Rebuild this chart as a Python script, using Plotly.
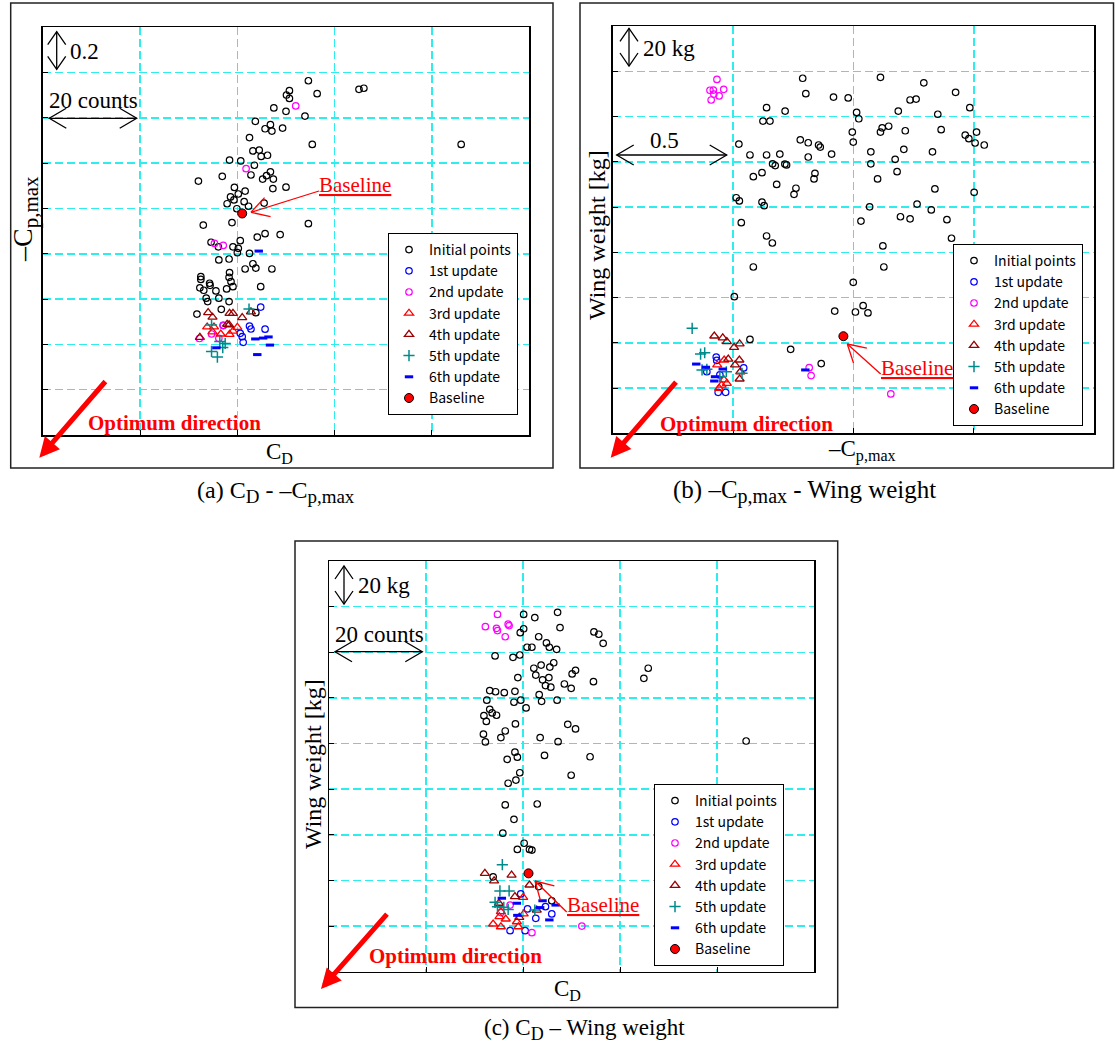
import math
import plotly.graph_objects as go

W, H = 1115, 1047

# ---------------- data (a): C_D [counts] vs -Cp,max ----------------
a_init = [(54.6,1.564),(50.7,1.520),(50.1,1.501),(50.7,1.486),(56.4,1.507),(65.0,1.526),(66.0,1.531),(47.5,1.444),(50.0,1.429),(53.9,1.408),(43.7,1.385),(46.8,1.370),(45.7,1.352),(47.1,1.342),(49.3,1.355),(42.5,1.313),(55.4,1.283),(86.0,1.283),(43.2,1.254),(44.5,1.258),(44.9,1.230),(46.2,1.235),(38.4,1.214),(40.7,1.210),(43.5,1.191),(42.8,1.148),(46.8,1.162),(46.0,1.145),(45.2,1.130),(47.4,1.130),(47.3,1.088),(50.0,1.094),(32.0,1.121),(36.9,1.142),(39.4,1.093),(38.6,1.051),(40.2,1.064),(41.6,1.077),(39.3,1.038),(37.9,1.021),(41.4,1.030),(42.3,1.010),(45.5,1.024),(39.9,0.999),(33.0,0.927),(38.9,0.938),(54.6,0.933),(44.1,0.874),(45.7,0.889),(48.8,0.885),(34.6,0.851),(36.1,0.831),(36.2,0.773),(38.3,0.777),(39.1,0.831),(40.2,0.824),(40.6,0.858),(40.0,0.805),(42.5,0.802),(43.2,0.756),(41.6,0.733),(43.8,0.737),(47.1,0.733),(32.5,0.699),(32.5,0.687),(32.3,0.650),(33.1,0.639),(34.3,0.670),(34.4,0.661),(35.6,0.636),(38.4,0.717),(38.3,0.696),(38.7,0.677),(37.8,0.645),(39.1,0.655),(33.6,0.604),(33.9,0.589),(36.2,0.604),(38.3,0.589),(44.8,0.655),(31.7,0.534),(36.7,0.555),(43.8,0.540)]
a_1st = [(44.8,0.565),(42.5,0.481),(42.8,0.468),(45.7,0.467),(37.1,0.484),(40.6,0.449),(41.0,0.434),(41.2,0.409)]
a_2nd = [(41.8,1.176),(52.0,1.453),(35.3,0.846),(37.1,0.837),(32.2,0.426),(34.7,0.446),(36.2,0.427),(37.1,0.483)]
a_3rd = [(33.8,0.477),(35.2,0.477),(34.9,0.455),(36.6,0.446),(38.4,0.444),(40.0,0.475),(39.1,0.459)]
a_4th = [(34.0,0.540),(34.9,0.520),(38.4,0.537),(39.1,0.537),(41.0,0.518),(42.8,0.544),(37.9,0.489),(32.3,0.431),(38.3,0.486)]
a_5th = [(42.4,0.556),(34.7,0.486),(36.4,0.413),(37.5,0.404),(37.0,0.386),(34.7,0.369),(35.9,0.344)]
a_6th = [(44.4,0.812),(43.7,0.424),(45.3,0.428),(46.4,0.433),(46.7,0.397),(44.1,0.355),(35.7,0.385)]
a_base = [(41.0,0.978)]

# ---------------- data (b): -Cp,max vs wing weight [kg] ----------------
b_init = [(0.789,156.9),(0.802,150.1),(0.917,148.6),(0.978,148.2),(0.639,143.9),(0.716,142.4),(0.624,138.0),(0.653,138.0),(0.524,127.8),(0.779,129.7),(0.812,128.4),(0.855,127.4),(0.862,126.5),(0.909,123.4),(0.570,123.0),(0.639,123.0),(0.694,123.4),(0.664,119.1),(0.675,118.3),(0.715,119.0),(0.722,118.6),(0.812,122.1),(0.620,115.2),(0.584,113.4),(0.840,114.9),(0.836,112.4),(0.681,110.0),(0.761,108.3),(0.753,105.6),(0.513,104.1),(0.526,102.7),(0.620,102.2),(0.629,100.6),(0.534,93.1),(0.639,87.2),(1.112,157.3),(1.292,154.9),(1.424,150.7),(1.235,147.3),(1.260,147.7),(1.483,143.9),(1.013,141.8),(1.022,139.0),(1.186,142.4),(1.350,141.0),(0.995,133.1),(0.999,128.7),(1.112,133.1),(1.119,135.0),(1.146,135.7),(1.215,133.7),(1.364,134.2),(1.464,131.8),(1.479,130.2),(1.511,133.1),(1.505,128.3),(1.543,127.4),(1.072,124.4),(1.209,125.5),(1.328,124.4),(1.072,119.1),(1.173,121.1),(1.181,115.6),(1.100,112.4),(1.338,108.0),(1.501,106.5),(1.067,100.1),(1.264,101.3),(1.323,98.7),(1.031,93.8),(1.195,95.7),(1.235,94.8),(1.388,94.4),(1.407,86.2),(0.663,84.1),(0.584,73.5),(1.122,82.8),(1.126,73.5),(0.999,66.7),(0.505,60.4),(0.922,54.0),(1.008,53.6),(1.040,56.4),(1.060,53.2),(0.570,41.5),(0.739,37.1),(0.866,30.8)]
b_1st = [(0.430,33.7),(0.432,32.2),(0.391,27.2),(0.544,28.9),(0.438,18.1),(0.469,18.1),(0.445,25.8)]
b_2nd = [(0.433,156.4),(0.404,151.6),(0.418,151.7),(0.461,152.0),(0.420,149.9),(0.442,149.1),(0.409,147.3),(0.816,29.0),(0.824,25.5),(1.155,17.4),(1.433,20.2)]
b_3rd = [(0.434,30.2),(0.463,32.4),(0.474,22.1),(0.452,21.3),(0.462,23.6),(0.442,19.9)]
b_4th = [(0.422,43.0),(0.457,42.2),(0.474,40.5),(0.504,38.0),(0.527,39.5),(0.480,32.8),(0.526,32.4),(0.508,30.2),(0.530,27.2),(0.527,24.0)]
b_5th = [(0.330,46.4),(0.365,35.0),(0.382,35.6),(0.371,28.0),(0.391,28.3),(0.472,27.2),(0.537,26.5),(0.445,25.0)]
b_6th = [(0.347,30.6),(0.387,29.2),(0.425,25.0),(0.422,23.1),(0.457,28.4),(0.800,28.0)]
b_base = [(0.958,42.9)]

# ---------------- data (c): C_D [counts] vs wing weight [kg] ----------------
c_init = [(40.1,156.6),(42.4,155.2),(47.1,157.5),(40.1,150.3),(39.4,148.6),(47.6,150.8),(43.2,146.8),(44.8,144.1),(45.4,142.2),(40.8,142.2),(41.8,142.2),(46.9,141.3),(34.2,138.4),(37.9,137.8),(39.3,138.8),(42.2,133.0),(43.7,134.4),(45.5,133.5),(46.3,135.4),(42.6,130.0),(44.0,127.9),(45.3,128.9),(44.6,125.4),(45.7,124.7),(48.5,126.1),(38.9,128.9),(33.1,123.2),(34.3,122.7),(36.1,122.3),(38.3,122.9),(43.3,121.4),(43.8,118.5),(47.0,119.0),(32.5,119.0),(38.1,118.1),(39.5,119.0),(40.6,115.6),(33.1,115.0),(33.6,113.4),(34.5,112.4),(31.9,112.2),(32.4,109.7),(38.4,108.6),(36.3,105.5),(35.4,102.6),(31.8,104.1),(32.2,100.7),(43.5,102.6),(47.2,100.8),(44.4,94.8),(36.7,93.1),(38.3,96.2),(38.8,94.0),(39.3,87.2),(38.5,84.0),(36.9,82.6),(54.6,148.9),(55.6,147.9),(56.5,143.9),(65.8,133.0),(64.9,128.6),(50.8,132.1),(50.1,130.5),(49.9,124.2),(54.5,127.1),(49.2,108.4),(50.8,106.4),(53.8,94.2),(49.9,86.1),(86.0,101.1),(36.3,73.1),(42.9,73.5),(38.1,66.8),(35.8,60.7),(40.2,56.3),(38.8,53.6),(41.3,53.6),(41.8,53.3),(33.8,41.6),(43.2,37.3),(45.9,31.1)]
c_1st = [(39.5,34.1),(40.9,27.5),(42.6,23.4),(44.6,28.5),(45.9,25.3),(37.3,18.0),(40.4,18.0)]
c_2nd = [(34.7,156.6),(32.2,151.2),(34.5,150.5),(34.7,149.5),(36.9,152.3),(37.1,151.7),(36.3,146.8),(37.3,29.2),(35.4,25.9),(41.8,17.1),(52.1,20.0)]
c_3rd = [(40.0,32.6),(35.4,26.3),(35.1,24.1),(36.4,23.1),(33.8,20.9),(35.4,19.7),(38.7,21.9),(39.0,19.7),(40.1,25.3)]
c_4th = [(32.1,43.1),(34.0,39.8),(37.6,42.3),(41.3,38.0),(35.0,30.0),(38.3,32.9),(39.2,23.8),(42.8,27.0)]
c_5th = [(35.7,46.9),(35.2,35.4),(37.1,35.4),(34.2,30.4),(34.7,28.5),(36.0,28.2),(36.9,27.3),(42.4,27.0)]
c_6th = [(35.6,32.2),(38.7,30.0),(44.0,31.1),(46.7,29.2),(45.4,22.7),(43.5,28.1),(38.8,24.7)]
c_base = [(41.1,43.1)]

series_names = ["Initial points", "1st update", "2nd update", "3rd update",
                "4th update", "5th update", "6th update", "Baseline"]

# ---------------- styles ----------------
styles = [
    dict(symbol="circle-open", size=6.5, color="black", line=dict(width=1.2)),
    dict(symbol="circle-open", size=6.5, color="#0000FF", line=dict(width=1.2)),
    dict(symbol="circle-open", size=6.5, color="#FF00FF", line=dict(width=1.2)),
    dict(symbol="triangle-up-open", size=8, color="#FF0000", line=dict(width=1.3)),
    dict(symbol="triangle-up-open", size=8, color="#990000", line=dict(width=1.3)),
    dict(symbol="cross-thin-open", size=8, color="#008B8B", line=dict(width=1.5)),
    dict(symbol="line-ew-open", size=6, color="#0000FF", line=dict(width=3)),
    dict(symbol="circle", size=9, color="#FF0000", line=dict(width=1, color="black")),
]

fig = go.Figure()

panels = [
    ("x", "y", "legend", [a_init, a_1st, a_2nd, a_3rd, a_4th, a_5th, a_6th, a_base]),
    ("x2", "y2", "legend2", [b_init, b_1st, b_2nd, b_3rd, b_4th, b_5th, b_6th, b_base]),
    ("x3", "y3", "legend3", [c_init, c_1st, c_2nd, c_3rd, c_4th, c_5th, c_6th, c_base]),
]
for xa, ya, lg, sets in panels:
    for name, pts, st in zip(series_names, sets, styles):
        fig.add_trace(go.Scatter(
            x=[p[0] for p in pts], y=[p[1] for p in pts], mode="markers",
            name=name, marker=st, xaxis=xa, yaxis=ya, legend=lg, cliponaxis=False,
            hoverinfo="skip"))

# ---------------- layout helpers ----------------
def PX(x):
    return x / W

def PY(y):
    return 1 - y / H

def dom_x(l, r):
    return [l / W, r / W]

def dom_y(t, b):
    return [1 - b / H, 1 - t / H]

axis_common = dict(showline=True, linecolor="black", linewidth=1.5, mirror=True,
                   ticks="inside", ticklen=5, tickcolor="black", tickwidth=1,
                   showticklabels=False, showgrid=True, gridcolor="#2EEDED",
                   gridwidth=1.5, griddash="8px,4px", zeroline=False, fixedrange=True)

legend_common = dict(bgcolor="white", bordercolor="black", borderwidth=1,
                     font=dict(family="Noto Sans CJK JP", size=14, color="black"),
                     xanchor="left", yanchor="top", tracegroupgap=0,
                     itemclick=False, itemdoubleclick=False)

fig.update_layout(
    width=W, height=H, margin=dict(l=0, r=0, t=0, b=0),
    paper_bgcolor="white", plot_bgcolor="white",
    xaxis=dict(axis_common, domain=dom_x(42.7, 529.3), range=[0, 100], dtick=20, anchor="y"),
    yaxis=dict(axis_common, domain=dom_y(27.3, 435), range=[0, 1.8], dtick=0.2, anchor="x"),
    xaxis2=dict(axis_common, domain=dom_x(612.7, 1094.3), range=[0, 2.0], dtick=0.5, anchor="y2"),
    yaxis2=dict(axis_common, domain=dom_y(26, 433.3), range=[0, 180], dtick=20, anchor="x2"),
    xaxis3=dict(axis_common, domain=dom_x(329.3, 814), range=[0, 100], dtick=20, anchor="y3"),
    yaxis3=dict(axis_common, domain=dom_y(561, 971.7), range=[0, 180], dtick=20, anchor="x3"),
    legend=dict(legend_common, x=PX(388), y=PY(233)),
    legend2=dict(legend_common, x=PX(953), y=PY(244)),
    legend3=dict(legend_common, x=PX(654), y=PY(784)),
    showlegend=True,
    hovermode=False,
)

shapes = []
annotations = []
SERIF = "Liberation Serif"

def frame(l, t, r, b):
    shapes.append(dict(type="rect", xref="paper", yref="paper",
                       x0=PX(l), y0=PY(b), x1=PX(r), y1=PY(t),
                       line=dict(color="#222222", width=1.5)))

def seg(x0, y0, x1, y1, color="black", width=1.3):
    shapes.append(dict(type="line", xref="paper", yref="paper",
                       x0=PX(x0), y0=PY(y0), x1=PX(x1), y1=PY(y1),
                       line=dict(color=color, width=width)))

def polyline(pts, color="black", width=1.3):
    path = "M " + " L ".join(f"{PX(x):.6f},{PY(y):.6f}" for x, y in pts)
    shapes.append(dict(type="path", xref="paper", yref="paper", path=path,
                       line=dict(color=color, width=width)))

def vdouble(x, y1, y2):
    seg(x, y1, x, y2)
    polyline([(x - 9, y1 + 13), (x, y1), (x + 9, y1 + 13)])
    polyline([(x - 9, y2 - 13), (x, y2), (x + 9, y2 - 13)])

def hdouble(y, x1, x2):
    seg(x1, y, x2, y)
    polyline([(x1 + 17, y - 10), (x1, y), (x1 + 17, y + 10)])
    polyline([(x2 - 17, y - 10), (x2, y), (x2 - 17, y + 10)])

def open_arrow(tip, tail, color="#FF0000", L=20, ang=30):
    tx, ty = tip
    sx, sy = tail
    seg(sx, sy, tx, ty, color=color, width=1.3)
    d = math.atan2(sy - ty, sx - tx)
    for s in (-1, 1):
        a = d + s * math.radians(ang)
        polyline([(tx + L * math.cos(a), ty + L * math.sin(a)), (tx, ty)], color=color, width=1.3)

def text(x, y, s, size=22, color="black", angle=0, xanchor="center", yanchor="middle"):
    annotations.append(dict(xref="paper", yref="paper", x=PX(x), y=PY(y), text=s,
                            showarrow=False, textangle=angle, xanchor=xanchor, yanchor=yanchor,
                            font=dict(family=SERIF, size=size, color=color)))

def big_arrow(tip, tail):
    annotations.append(dict(xref="paper", yref="paper", x=PX(tip[0]), y=PY(tip[1]),
                            ax=tail[0] - tip[0], ay=tail[1] - tip[1], text="",
                            showarrow=True, arrowhead=2, arrowsize=0.8, arrowwidth=5,
                            arrowcolor="#FF0000"))

def sub(s, px):
    return f'<sub><span style="font-size:{px}px">{s}</span></sub>'

# outer frames
frame(10.7, 3, 553, 468)
frame(580, 3, 1113.5, 468)
frame(295, 541, 837.7, 1007.5)

# ---- panel (a) ----
vdouble(56.7, 31.7, 69.3)
text(68, 51, "0.2", size=23, xanchor="left")
hdouble(118.3, 49.3, 136.7)
text(47, 101, "20 counts", size=23, xanchor="left")
open_arrow((251, 212.3), (319, 191))
text(355.3, 185, "<u>Baseline</u>", size=21, color="#FF0000")
big_arrow((39.3, 457.7), (106.7, 380))
text(174.5, 423.3, "<b>Optimum direction</b>", size=21, color="#FF0000")
text(279, 453, "C<sub>D</sub>", size=23)
text(25, 219, "–C" + sub("p,max", 21), size=28, angle=-90)
text(276, 492, "(a) C" + sub("D", 19) + " - –C" + sub("p,max", 19), size=24)

# ---- panel (b) ----
vdouble(629, 28.3, 66)
text(641, 48, "20 kg", size=23, xanchor="left")
hdouble(155, 616.7, 726.7)
text(665, 140, "0.5", size=23)
open_arrow((847.3, 344), (880.7, 374))
text(917, 368, "<u>Baseline</u>", size=21, color="#FF0000")
big_arrow((610.7, 457.7), (677.3, 380.7))
text(746.2, 424, "<b>Optimum direction</b>", size=21, color="#FF0000")
text(862, 451, "–C<sub>p,max</sub>", size=23)
text(597, 235, "Wing weight [kg]", size=24, angle=-90)
text(804, 492, "(b) –C" + sub("p,max", 20) + " - Wing weight", size=25)

# ---- panel (c) ----
vdouble(344, 566, 604)
text(356, 585.7, "20 kg", size=23, xanchor="left")
hdouble(651.7, 335, 422.3)
text(333, 634, "20 counts", size=23, xanchor="left")
open_arrow((535, 881), (566.7, 912))
text(603, 905, "<u>Baseline</u>", size=21, color="#FF0000")
big_arrow((321, 989), (388.3, 912.7))
text(455.8, 955.7, "<b>Optimum direction</b>", size=21, color="#FF0000")
text(567, 990, "C<sub>D</sub>", size=23)
text(313, 764, "Wing weight [kg]", size=24, angle=-90)
text(584, 1029, "(c) C" + sub("D", 18) + " – Wing weight", size=23)

fig.update_layout(shapes=shapes, annotations=annotations)
fig.write_html("out.html",
               config={"displayModeBar": False, "staticPlot": True},
               post_script="document.body.style.margin='0px';document.body.style.overflow='hidden';")
